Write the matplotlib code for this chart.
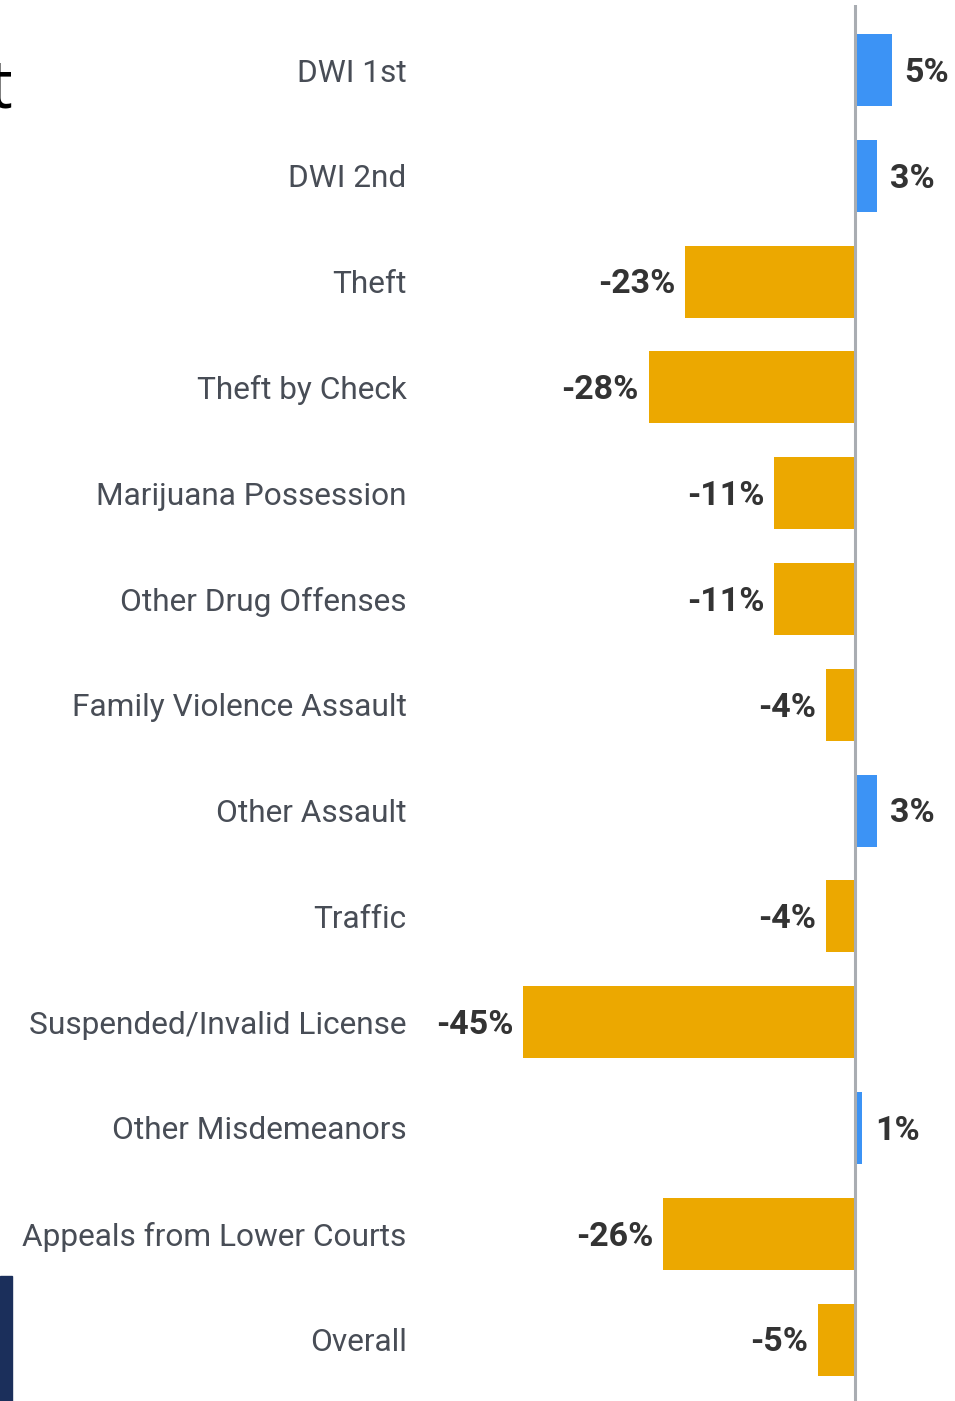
import numpy as np
import matplotlib
matplotlib.use("Agg")
import matplotlib.pyplot as plt
import matplotlib.transforms as mtransforms
from matplotlib.patches import Rectangle

categories = ["DWI 1st", "DWI 2nd", "Theft", "Theft by Check", "Marijuana Possession",
              "Other Drug Offenses", "Family Violence Assault", "Other Assault", "Traffic",
              "Suspended/Invalid License", "Other Misdemeanors", "Appeals from Lower Courts",
              "Overall"]
changes = [5, 3, -23, -28, -11, -11, -4, 3, -4, -45, 1, -26, -5]

BLUE = "#3c93f5"
GOLD = "#eca800"

W, H = 955, 1401
fig = plt.figure(figsize=(W / 100, H / 100), dpi=100)
ax = fig.add_axes([440 / W, 0, 1 - 440 / W, (H - 5) / H])

y = np.arange(len(categories))
colors = [BLUE if v > 0 else GOLD for v in changes]
ax.barh(y, changes, height=0.68, color=colors)
ax.axvline(0, color="#a9adb2", lw=2.2, zorder=3)

for yi, v in zip(y, changes):
    off = 9 if v > 0 else -7
    ax.annotate(f"{v}%", (v, yi), xytext=(off, -2), textcoords="offset points",
                ha="left" if v > 0 else "right", va="center",
                fontsize=24.5, fontweight="bold", color="#333333", family="Roboto")

ax.set_xlim(-(855 - 440) / 7.37, 100 / 7.37)
ax.set_ylim((H - 70) / 105.8, -65 / 105.8)
ax.set_yticks(y)
ax.set_yticklabels(categories, fontsize=22.8, color="#484d56", family="Roboto")
# nudge the category names down a touch, as in the original
shift = mtransforms.ScaledTranslation(0, -3 / 100, fig.dpi_scale_trans)
for lbl in ax.get_yticklabels():
    lbl.set_transform(lbl.get_transform() + shift)
ax.tick_params(axis="y", length=0, pad=24)
ax.set_xticks([])
for s in ax.spines.values():
    s.set_visible(False)

# bits of the surrounding page that show in the crop
fig.text(13 / W, (H - 108) / H, "t", ha="right", va="baseline", fontsize=48,
         color="black", family="Open Sans")
fig.patches.append(Rectangle((0, 0), 12 / W, (H - 1276) / H, transform=fig.transFigure,
                             color="#1b2f5b", figure=fig))

fig.savefig("out.png", dpi=100)
